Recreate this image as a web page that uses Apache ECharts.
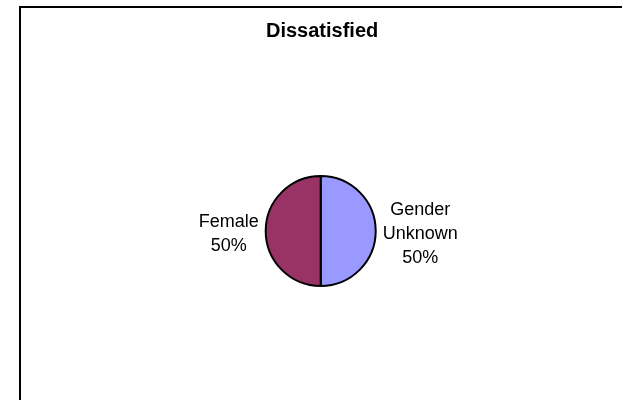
<!DOCTYPE html>
<html>
<head>
<meta charset="utf-8">
<script src="https://cdn.jsdelivr.net/npm/echarts@6/dist/echarts.min.js"></script>
<style>html,body{margin:0;padding:0;background:#fff}#c{width:622px;height:400px}</style>
</head>
<body>
<div id="c"></div>
<script>
var titleText = 'Dissatisfied';
var categories = ['Gender Unknown', 'Female'];
var values = [50, 50];
var colors = ['#9999FF', '#993366'];

var chart = echarts.init(document.getElementById('c'), null, {renderer: 'canvas'});
var font = '"Liberation Sans", Arial, sans-serif';
chart.setOption({
  backgroundColor: '#ffffff',
  animation: false,
  title: {
    text: titleText,
    left: 266,
    top: 21,
    padding: 0,
    textStyle: {fontFamily: font, fontSize: 20, fontWeight: 'bold', color: '#000'}
  },
  graphic: [{
    type: 'rect',
    shape: {x: 20, y: 7, width: 700, height: 500},
    style: {fill: 'none', stroke: '#000', lineWidth: 2},
    z: 0
  }],
  series: [{
    type: 'pie',
    center: [320.7, 231],
    radius: 55,
    startAngle: 90,
    clockwise: true,
    avoidLabelOverlap: false,
    data: categories.map(function (c, i) {
      return {name: c, value: values[i], itemStyle: {color: colors[i]}};
    }),
    itemStyle: {borderColor: '#000', borderWidth: 2},
    label: {
      show: true,
      position: 'outside',
      distanceToLabelLine: 7,
      formatter: function (p) {
        return p.name.replace(' ', '\n') + '\n' + Math.round(p.percent) + '%';
      },
      fontFamily: font,
      fontSize: 18,
      lineHeight: 24,
      color: '#000'
    },
    labelLine: {show: false, length: 0, length2: 0},
    labelLayout: function (p) {
      var r = p.labelRect;
      return {x: r.x + r.width / 2, y: r.y + r.height / 2 + 3, align: 'center', verticalAlign: 'middle'};
    },
    emphasis: {disabled: true}
  }]
});
</script>
</body>
</html>
